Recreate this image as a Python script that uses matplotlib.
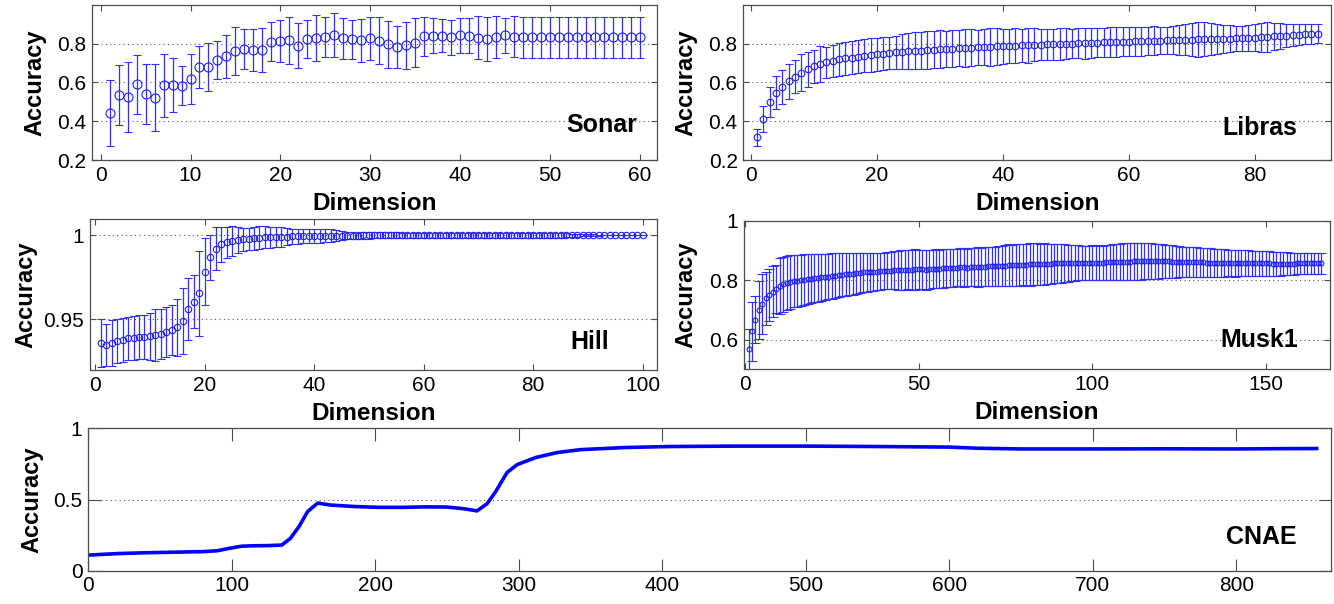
import matplotlib
matplotlib.use("Agg")
import matplotlib.pyplot as plt
import numpy as np

plt.rcParams['font.family'] = ['Liberation Sans', 'DejaVu Sans']

# ---- Sonar (60 dims) ----
sonar_mean = [0.443, 0.536, 0.524, 0.591, 0.540, 0.521, 0.584, 0.586, 0.583, 0.619,
              0.679, 0.679, 0.714, 0.734, 0.762, 0.771, 0.767, 0.766, 0.809, 0.812,
              0.817, 0.788, 0.822, 0.829, 0.834, 0.845, 0.826, 0.822, 0.817, 0.826,
              0.814, 0.795, 0.783, 0.790, 0.805, 0.838, 0.841, 0.841, 0.833, 0.843,
              0.841, 0.831, 0.824, 0.833, 0.843, 0.836, 0.833, 0.833, 0.833, 0.833,
              0.833, 0.833, 0.833, 0.833, 0.833, 0.833, 0.833, 0.833, 0.833, 0.833]
sonar_std = [0.171, 0.155, 0.179, 0.152, 0.153, 0.171, 0.164, 0.138, 0.099, 0.129,
             0.110, 0.125, 0.099, 0.110, 0.125, 0.103, 0.107, 0.115, 0.101, 0.109,
             0.122, 0.116, 0.099, 0.120, 0.103, 0.112, 0.104, 0.101, 0.111, 0.109,
             0.121, 0.123, 0.109, 0.120, 0.125, 0.100, 0.089, 0.085, 0.090, 0.090,
             0.090, 0.110, 0.115, 0.110, 0.090, 0.106, 0.106, 0.106, 0.106, 0.106,
             0.106, 0.106, 0.106, 0.106, 0.106, 0.106, 0.106, 0.106, 0.106, 0.106]

# ---- Libras (90 dims) ----
libras_mean = [0.317, 0.412, 0.498, 0.547, 0.576, 0.606, 0.630, 0.650, 0.668, 0.683,
               0.695, 0.704, 0.712, 0.718, 0.723, 0.728, 0.733, 0.737, 0.741, 0.744,
               0.748, 0.751, 0.754, 0.757, 0.760, 0.762, 0.764, 0.766, 0.768, 0.770,
               0.772, 0.774, 0.776, 0.777, 0.779, 0.780, 0.782, 0.783, 0.785, 0.786,
               0.787, 0.789, 0.790, 0.791, 0.793, 0.794, 0.795, 0.797, 0.798, 0.799,
               0.800, 0.801, 0.802, 0.803, 0.804, 0.806, 0.807, 0.808, 0.809, 0.810,
               0.811, 0.812, 0.813, 0.814, 0.815, 0.816, 0.817, 0.818, 0.819, 0.820,
               0.821, 0.822, 0.822, 0.823, 0.824, 0.825, 0.826, 0.827, 0.829, 0.831,
               0.833, 0.835, 0.837, 0.839, 0.841, 0.843, 0.845, 0.847, 0.849, 0.851]
libras_std = [0.045, 0.067, 0.076, 0.085, 0.088, 0.090, 0.085, 0.095, 0.090, 0.085,
              0.092, 0.080, 0.082, 0.085, 0.083, 0.086, 0.084, 0.085, 0.087, 0.084,
              0.086, 0.083, 0.085, 0.090, 0.092, 0.095, 0.093, 0.096, 0.094, 0.098,
              0.095, 0.097, 0.093, 0.096, 0.094, 0.092, 0.095, 0.097, 0.094, 0.090,
              0.088, 0.090, 0.086, 0.089, 0.085, 0.080, 0.078, 0.080, 0.082, 0.079,
              0.077, 0.078, 0.080, 0.076, 0.075, 0.074, 0.076, 0.077, 0.075, 0.074,
              0.073, 0.075, 0.072, 0.074, 0.071, 0.070, 0.072, 0.075, 0.080, 0.085,
              0.090, 0.088, 0.083, 0.078, 0.072, 0.068, 0.066, 0.065, 0.068, 0.072,
              0.075, 0.078, 0.070, 0.065, 0.060, 0.058, 0.055, 0.052, 0.050, 0.048]

# ---- Hill (100 dims) ----
hill_mean = [0.9358, 0.9348, 0.9362, 0.9372, 0.9380, 0.9387, 0.9390, 0.9395, 0.9397, 0.9400,
             0.9407, 0.9413, 0.9425, 0.9437, 0.9453, 0.9490, 0.9560, 0.9605, 0.9654, 0.9783,
             0.9868, 0.9920, 0.9945, 0.9957, 0.9964, 0.9970, 0.9974, 0.9978, 0.9980, 0.9984,
             0.9986, 0.9988, 0.9989, 0.9990, 0.9991, 0.9992, 0.9993, 0.9994, 0.9994, 0.9995,
             0.9995, 0.9996, 0.9996, 0.9996, 0.9997, 0.9997, 0.9997, 0.9997, 0.9998, 0.9998,
             0.9998, 0.9998, 0.9998, 0.9998, 0.9998, 0.9998, 0.9998, 0.9998, 0.9998, 0.9998,
             0.9998, 0.9998, 0.9998, 0.9998, 0.9998, 0.9998, 0.9998, 0.9998, 0.9998, 0.9998,
             0.9998, 0.9998, 0.9998, 0.9998, 0.9998, 0.9998, 0.9998, 0.9998, 0.9998, 0.9998,
             0.9998, 0.9998, 0.9998, 0.9998, 0.9998, 0.9999, 0.9999, 0.9999, 1.0000, 1.0000,
             1.0000, 1.0000, 1.0000, 1.0000, 1.0000, 1.0000, 1.0000, 1.0000, 1.0000, 1.0000]
hill_std = [0.0142, 0.0122, 0.0136, 0.0130, 0.0130, 0.0125, 0.0130, 0.0132, 0.0131, 0.0140,
            0.0154, 0.0150, 0.0148, 0.0147, 0.0170, 0.0196, 0.0185, 0.0158, 0.0252, 0.0200,
            0.0135, 0.0130, 0.0104, 0.0091, 0.0087, 0.0079, 0.0070, 0.0064, 0.0069, 0.0069,
            0.0065, 0.0062, 0.0060, 0.0058, 0.0052, 0.0045, 0.0044, 0.0042, 0.0040, 0.0040,
            0.0040, 0.0040, 0.0038, 0.0033, 0.0025, 0.0022, 0.0020, 0.0020, 0.0020, 0.0020,
            0.0018, 0.0018, 0.0017, 0.0017, 0.0017, 0.0016, 0.0016, 0.0016, 0.0016, 0.0015,
            0.0015, 0.0015, 0.0015, 0.0015, 0.0015, 0.0015, 0.0015, 0.0015, 0.0015, 0.0015,
            0.0015, 0.0015, 0.0015, 0.0015, 0.0015, 0.0015, 0.0015, 0.0015, 0.0015, 0.0015,
            0.0015, 0.0015, 0.0015, 0.0015, 0.0014, 0.0012, 0.0010, 0.0010, 0.0006, 0.0005,
            0.0004, 0.0003, 0.0002, 0.0002, 0.0001, 0.0001, 0.0000, 0.0000, 0.0000, 0.0000]

# ---- Musk1 (166 dims) ----
musk_mean = [0.567, 0.628, 0.667, 0.700, 0.720, 0.739, 0.750, 0.761, 0.771, 0.780,
             0.786, 0.790, 0.793, 0.796, 0.798, 0.800, 0.802, 0.804, 0.805, 0.806,
             0.808, 0.809, 0.811, 0.812, 0.814, 0.815, 0.817, 0.818, 0.820, 0.821,
             0.822, 0.823, 0.825, 0.826, 0.827, 0.828, 0.829, 0.829, 0.830, 0.831,
             0.832, 0.832, 0.833, 0.833, 0.834, 0.834, 0.835, 0.835, 0.836, 0.836,
             0.836, 0.835, 0.837, 0.838, 0.838, 0.839, 0.840, 0.840, 0.841, 0.842,
             0.842, 0.843, 0.843, 0.842, 0.843, 0.844, 0.844, 0.845, 0.845, 0.846,
             0.846, 0.847, 0.848, 0.848, 0.849, 0.850, 0.850, 0.851, 0.851, 0.852,
             0.852, 0.853, 0.853, 0.854, 0.854, 0.855, 0.855, 0.855, 0.856, 0.856,
             0.856, 0.857, 0.857, 0.857, 0.857, 0.858, 0.858, 0.858, 0.858, 0.859,
             0.859, 0.859, 0.859, 0.860, 0.860, 0.860, 0.861, 0.861, 0.862, 0.862,
             0.862, 0.863, 0.863, 0.864, 0.864, 0.864, 0.864, 0.864, 0.863, 0.863,
             0.863, 0.863, 0.862, 0.862, 0.862, 0.861, 0.861, 0.861, 0.860, 0.860,
             0.860, 0.860, 0.859, 0.859, 0.859, 0.858, 0.858, 0.858, 0.858, 0.858,
             0.857, 0.857, 0.857, 0.857, 0.857, 0.856, 0.856, 0.856, 0.856, 0.856,
             0.856, 0.855, 0.855, 0.855, 0.855, 0.855, 0.855, 0.855, 0.856, 0.856,
             0.856, 0.856, 0.857, 0.857, 0.857, 0.857]
musk_std = [0.068, 0.100, 0.079, 0.097, 0.100, 0.089, 0.086, 0.086, 0.081, 0.095,
            0.093, 0.092, 0.090, 0.088, 0.087, 0.086, 0.085, 0.084, 0.082, 0.081,
            0.080, 0.079, 0.078, 0.077, 0.076, 0.075, 0.074, 0.073, 0.072, 0.072,
            0.071, 0.070, 0.068, 0.067, 0.066, 0.065, 0.064, 0.063, 0.062, 0.062,
            0.062, 0.063, 0.064, 0.065, 0.066, 0.067, 0.066, 0.067, 0.068, 0.067,
            0.066, 0.067, 0.066, 0.065, 0.066, 0.064, 0.065, 0.064, 0.063, 0.064,
            0.063, 0.064, 0.065, 0.063, 0.064, 0.065, 0.066, 0.064, 0.065, 0.066,
            0.067, 0.066, 0.067, 0.068, 0.069, 0.070, 0.069, 0.070, 0.071, 0.070,
            0.071, 0.072, 0.071, 0.070, 0.069, 0.070, 0.068, 0.067, 0.066, 0.065,
            0.064, 0.063, 0.062, 0.061, 0.060, 0.059, 0.058, 0.058, 0.057, 0.058,
            0.057, 0.058, 0.057, 0.058, 0.059, 0.060, 0.060, 0.061, 0.062, 0.062,
            0.063, 0.062, 0.063, 0.062, 0.061, 0.060, 0.060, 0.059, 0.058, 0.057,
            0.056, 0.055, 0.055, 0.054, 0.053, 0.052, 0.052, 0.051, 0.050, 0.050,
            0.049, 0.049, 0.048, 0.048, 0.047, 0.047, 0.046, 0.046, 0.045, 0.045,
            0.045, 0.044, 0.044, 0.044, 0.043, 0.043, 0.043, 0.042, 0.042, 0.042,
            0.041, 0.041, 0.040, 0.040, 0.039, 0.039, 0.038, 0.038, 0.037, 0.037,
            0.037, 0.036, 0.036, 0.036, 0.036, 0.036]

# ---- CNAE (856 dims, read at sample points) ----
cnae_dim = [1, 20, 40, 60, 80, 90, 100, 107, 115, 125, 135, 141, 147, 153, 160, 169,
            187, 203, 220, 234, 250, 262, 271, 278, 284, 292, 299, 312, 327, 343, 374,
            405, 450, 500, 550, 600, 620, 650, 700, 750, 800, 830, 856]
cnae_acc = [0.110, 0.120, 0.126, 0.130, 0.134, 0.140, 0.160, 0.172, 0.175, 0.176, 0.180,
            0.227, 0.310, 0.415, 0.475, 0.461, 0.450, 0.445, 0.445, 0.448, 0.447, 0.435,
            0.420, 0.470, 0.555, 0.690, 0.745, 0.795, 0.830, 0.850, 0.865, 0.872, 0.875,
            0.875, 0.872, 0.868, 0.860, 0.855, 0.855, 0.856, 0.855, 0.857, 0.858]

W, H = 1334, 604


def box(l, r, t, b):
    # pixel box -> figure fraction
    return [l / W, 1 - b / H, (r - l) / W, (b - t) / H]


def style_axes(ax, yticks, yticklabels, ticklen):
    ax.set_yticks(yticks)
    ax.set_yticklabels(yticklabels)
    ax.tick_params(direction='in', top=True, right=True, length=ticklen,
                   width=0.8, color='0.3', labelsize=15, pad=4)
    for s in ax.spines.values():
        s.set_color('0.3')
        s.set_linewidth(0.9)
    ax.yaxis.grid(True, linestyle=(0, (1, 3)), color='0.35', linewidth=0.8)
    ax.set_axisbelow(True)


def err_panel(ax, mean, std, ms, capsize):
    x = np.arange(1, len(mean) + 1)
    ax.errorbar(x, mean, yerr=std, fmt='o', color='#0000ff', ecolor='#3030ff',
                mfc='none', mec='#2020ff', ms=ms, mew=0.8, elinewidth=0.9,
                capsize=capsize, capthick=0.9)


def name_tag(ax, txt, x, y):
    ax.text(x, y, txt, transform=ax.transAxes, ha='right', va='center',
            fontsize=18, fontweight='bold')


fig = plt.figure(figsize=(W / 100, H / 100), dpi=100)

# Sonar
ax = fig.add_axes(box(91.7, 656.7, 4.7, 160))
err_panel(ax, sonar_mean, sonar_std, 6.5, 3)
ax.set_xlim(-1, 61.9)
ax.set_ylim(0.2, 1.0)
ax.set_xticks([0, 10, 20, 30, 40, 50, 60])
style_axes(ax, [0.2, 0.4, 0.6, 0.8], ['0.2', '0.4', '0.6', '0.8'], 4.5)
name_tag(ax, 'Sonar', 0.965, 0.225)
ax_sonar = ax

# Libras
ax = fig.add_axes(box(743.3, 1331, 4.7, 160))
err_panel(ax, libras_mean, libras_std, 4.8, 3)
ax.set_xlim(-1.2, 92.1)
ax.set_ylim(0.2, 1.0)
ax.set_xticks([0, 20, 40, 60, 80])
style_axes(ax, [0.2, 0.4, 0.6, 0.8], ['0.2', '0.4', '0.6', '0.8'], 4.5)
name_tag(ax, 'Libras', 0.942, 0.206)
ax_libras = ax

# Hill
ax = fig.add_axes(box(89.7, 657, 219, 370))
err_panel(ax, hill_mean, hill_std, 4.6, 3)
ax.set_xlim(-1, 102.6)
ax.set_ylim(0.92, 1.0095)
ax.set_xticks([0, 20, 40, 60, 80, 100])
style_axes(ax, [0.95, 1.0], ['0.95', '1'], 4.5)
name_tag(ax, 'Hill', 0.916, 0.187)
ax_hill = ax

# Musk1
ax = fig.add_axes(box(744, 1330, 220.7, 369.3))
err_panel(ax, musk_mean, musk_std, 3.5, 3.5)
ax.set_xlim(-0.3, 168.5)
ax.set_ylim(0.5, 1.0)
ax.set_xticks([0, 50, 100, 150])
style_axes(ax, [0.6, 0.8, 1.0], ['0.6', '0.8', '1'], 4.5)
name_tag(ax, 'Musk1', 0.945, 0.197)
ax_musk = ax

# CNAE
ax = fig.add_axes(box(88, 1331, 428.3, 570.7))
ax.plot(cnae_dim, cnae_acc, color='#0000ff', lw=2.6)
ax.set_xlim(0, 866)
ax.set_ylim(0, 1)
ax.set_xticks([0, 100, 200, 300, 400, 500, 600, 700, 800])
style_axes(ax, [0, 0.5, 1.0], ['0', '0.5', '1'], 9)
name_tag(ax, 'CNAE', 0.9727, 0.237)
ax_cnae = ax

for a in [ax_sonar, ax_libras, ax_hill, ax_musk, ax_cnae]:
    a.set_ylabel('Accuracy', fontsize=17, fontweight='bold')
for a in [ax_sonar, ax_libras, ax_hill, ax_musk]:
    a.set_xlabel('Dimension', fontsize=17.5, fontweight='bold', labelpad=5)

ax_sonar.yaxis.set_label_coords(-0.081, 0.5)
ax_libras.yaxis.set_label_coords(-0.078, 0.5)
ax_hill.yaxis.set_label_coords(-0.092, 0.5)
ax_musk.yaxis.set_label_coords(-0.08, 0.5)
ax_cnae.yaxis.set_label_coords(-0.036, 0.5)

fig.savefig('out.png', dpi=100)
